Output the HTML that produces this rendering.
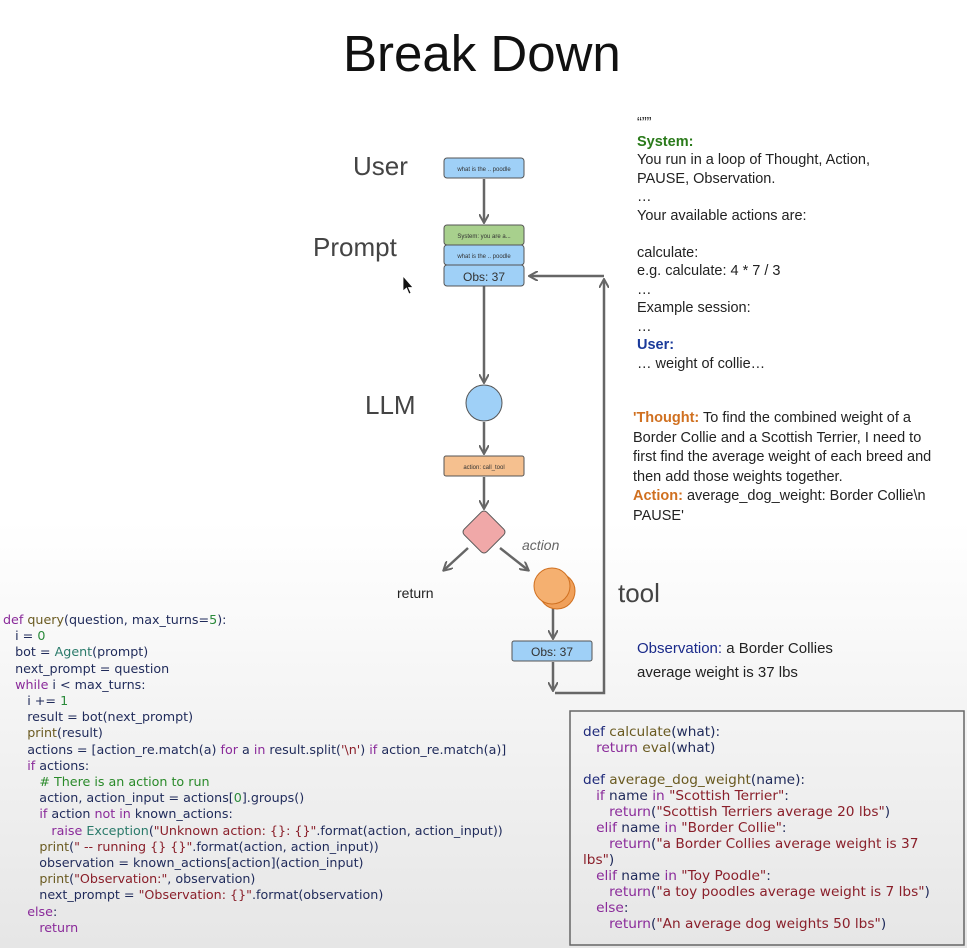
<!DOCTYPE html><html><head><style>
body{margin:0;width:967px;height:948px;overflow:hidden;background:linear-gradient(#fff 0,#fff 55%,#e6e6e6 100%);font-family:"Liberation Sans",sans-serif;position:relative}
.a{position:absolute;white-space:pre}
.code{font-family:"DejaVu Sans",sans-serif;font-size:12.7px;line-height:16.2px;color:#1f2a5a}
.code2{font-family:"DejaVu Sans",sans-serif;font-size:13.7px;line-height:16px;color:#1f2a5a}
.k{color:#8a2a9a}.s{color:#8a1f2a}.n{color:#2a8a3a}.f{color:#6a5a20}.c{color:#2a8a2a}
.rt{font-size:14.5px;line-height:18.5px;color:#222}
</style></head><body>
<div class="a" style="left:343px;top:24px;font-size:51px;color:#111">Break Down</div>
<div class="a" style="left:353px;top:151px;font-size:26px;color:#444">User</div>
<div class="a" style="left:313px;top:232px;font-size:26px;color:#444">Prompt</div>
<div class="a" style="left:365px;top:390px;font-size:26px;color:#444">LLM</div>
<div class="a" style="left:618px;top:578px;font-size:26px;color:#444">tool</div>
<div class="a" style="left:397px;top:585px;font-size:14px;color:#222">return</div>
<div class="a" style="left:522px;top:537px;font-size:14px;color:#666;font-style:italic">action</div>
<svg class="a" style="left:0;top:0" width="967" height="948">
<defs><marker id="m" markerWidth="10" markerHeight="10" refX="8" refY="5" orient="auto" markerUnits="userSpaceOnUse"><path d="M0,0 L9,5 L0,10" fill="none" stroke="#666" stroke-width="2"/></marker></defs>
<g stroke="#666" stroke-width="2.5" fill="none">
<line x1="484" y1="179" x2="484" y2="222" marker-end="url(#m)"/>
<line x1="484" y1="286" x2="484" y2="382" marker-end="url(#m)"/>
<line x1="484" y1="422" x2="484" y2="453" marker-end="url(#m)"/>
<line x1="484" y1="477" x2="484" y2="508" marker-end="url(#m)"/>
<line x1="468" y1="548" x2="444" y2="570" marker-end="url(#m)"/>
<line x1="500" y1="548" x2="528" y2="570" marker-end="url(#m)"/>
<line x1="553" y1="608" x2="553" y2="638" marker-end="url(#m)"/>
<line x1="553" y1="662" x2="553" y2="690" marker-end="url(#m)"/>
<polyline points="555,693 604,693 604,280" marker-end="url(#m)"/>
<line x1="604" y1="276" x2="530" y2="276" marker-end="url(#m)"/>
</g>
<g stroke="#555" stroke-width="1">
<rect x="444" y="158" width="80" height="20" rx="3" fill="#9fd0f7"/>
<rect x="444" y="225" width="80" height="20" rx="3" fill="#a8d08d"/>
<rect x="444" y="245" width="80" height="20" rx="3" fill="#9fd0f7"/>
<rect x="444" y="265" width="80" height="21" rx="3" fill="#9fd0f7"/>
<circle cx="484" cy="403" r="18" fill="#9fd0f7"/>
<rect x="444" y="456" width="80" height="20" rx="2" fill="#f5c08f"/>
<rect x="468" y="516" width="32" height="32" rx="4" fill="#f0a8a8" transform="rotate(45 484 532)"/>
<circle cx="557" cy="591" r="18" fill="#f0a05a" stroke="#d07020"/>
<circle cx="552" cy="586" r="18" fill="#f5b070" stroke="#d07020"/>
<rect x="512" y="641" width="80" height="20" rx="2" fill="#9fd0f7"/>
</g>
<g font-family="Liberation Sans" fill="#333" text-anchor="middle">
<text x="484" y="171" font-size="6">what is the .. poodle</text>
<text x="484" y="238" font-size="6">System: you are a...</text>
<text x="484" y="258" font-size="6">what is the .. poodle</text>
<text x="484" y="281" font-size="12">Obs: 37</text>
<text x="484" y="469" font-size="6">action: call_tool</text>
<text x="552" y="656" font-size="12">Obs: 37</text>
</g>
<path d="M403,276 L403,291 L406.5,288 L409,294 L411,293 L408.5,287.5 L413,287.5 Z" fill="#111" stroke="#fff" stroke-width="0.8"/>
<rect x="570" y="711" width="394" height="234" fill="none" stroke="#666" stroke-width="1.5"/>
</svg>
<div class="a rt" style="left:637px;top:114px">“””
<b style="color:#2a7a1a">System:</b>
You run in a loop of Thought, Action,
PAUSE, Observation.
…
Your available actions are:

calculate:
e.g. calculate: 4 * 7 / 3
…
Example session:
…
<b style="color:#1a3a9a">User:</b>
… weight of collie…</div>
<div class="a rt" style="left:633px;top:409px;line-height:19.5px"><b style="color:#d07020">'Thought:</b> To find the combined weight of a
Border Collie and a Scottish Terrier, I need to
first find the average weight of each breed and
then add those weights together.
<b style="color:#d07020">Action:</b> average_dog_weight: Border Collie\n
PAUSE'</div>
<div class="a" style="left:637px;top:637px;font-size:15px;line-height:24px;color:#222"><span style="color:#1a2a8a">Observation:</span> a Border Collies
average weight is 37 lbs</div>
<div class="a code" style="left:3px;top:612px"><span class="k">def</span> <span class="f">query</span>(question, max_turns=<span class="n">5</span>):
   i = <span class="n">0</span>
   bot = <span class="f" style="color:#2a7a6a">Agent</span>(prompt)
   next_prompt = question
   <span class="k">while</span> i &lt; max_turns:
      i += <span class="n">1</span>
      result = bot(next_prompt)
      <span class="f">print</span>(result)
      actions = [action_re.match(a) <span class="k">for</span> a <span class="k">in</span> result.split(<span class="s">'\n'</span>) <span class="k">if</span> action_re.match(a)]
      <span class="k">if</span> actions:
         <span class="c"># There is an action to run</span>
         action, action_input = actions[<span class="n">0</span>].groups()
         <span class="k">if</span> action <span class="k">not in</span> known_actions:
            <span class="k">raise</span> <span style="color:#2a7a6a">Exception</span>(<span class="s">"Unknown action: {}: {}"</span>.format(action, action_input))
         <span class="f">print</span>(<span class="s">" -- running {} {}"</span>.format(action, action_input))
         observation = known_actions[action](action_input)
         <span class="f">print</span>(<span class="s">"Observation:"</span>, observation)
         next_prompt = <span class="s">"Observation: {}"</span>.format(observation)
      <span class="k">else</span>:
         <span class="k">return</span></div>
<div class="a code2" style="left:583px;top:724px"><span style="color:#1f2a7a">def</span> <span class="f">calculate</span>(what):
   <span class="k">return</span> <span class="f">eval</span>(what)

<span style="color:#1f2a7a">def</span> <span class="f">average_dog_weight</span>(name):
   <span class="k">if</span> name <span class="k">in</span> <span class="s">"Scottish Terrier"</span>:
      <span class="k">return</span>(<span class="s">"Scottish Terriers average 20 lbs"</span>)
   <span class="k">elif</span> name <span class="k">in</span> <span class="s">"Border Collie"</span>:
      <span class="k">return</span>(<span class="s">"a Border Collies average weight is 37</span>
<span class="s">lbs"</span>)
   <span class="k">elif</span> name <span class="k">in</span> <span class="s">"Toy Poodle"</span>:
      <span class="k">return</span>(<span class="s">"a toy poodles average weight is 7 lbs"</span>)
   <span class="k">else</span>:
      <span class="k">return</span>(<span class="s">"An average dog weights 50 lbs"</span>)</div>
</body></html>
